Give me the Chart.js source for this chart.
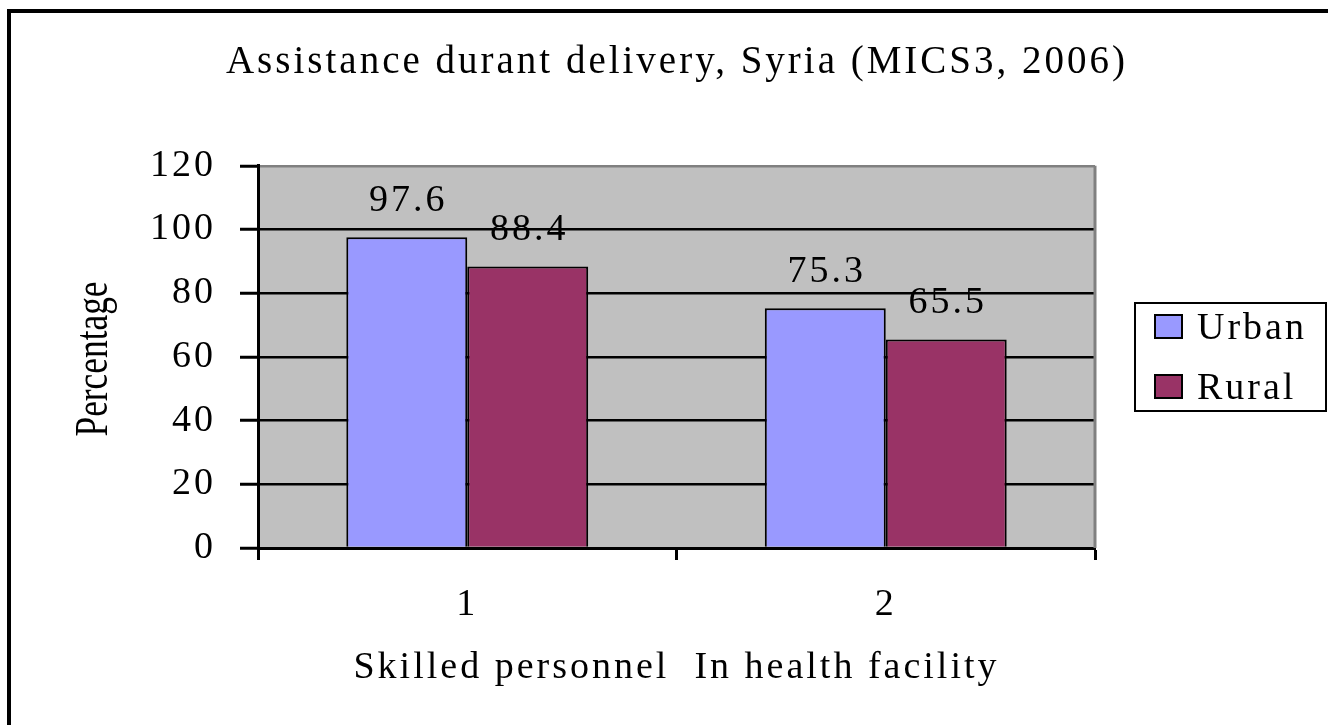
<!DOCTYPE html>
<html><head><meta charset="utf-8">
<script src="https://cdn.jsdelivr.net/npm/chart.js@4"></script>
<style>html,body{margin:0;padding:0;background:#fff;overflow:hidden}</style>
</head><body>
<canvas id="c" width="1328" height="725"></canvas>
<script>
const titleText = 'Assistance durant delivery, Syria (MICS3, 2006)';
const xAxisTitle = 'Skilled personnel  In health facility';
const yAxisTitle = 'Percentage';
const categories = ['1', '2'];
const seriesNames = ['Urban', 'Rural'];
const urbanValues = [97.6, 75.3];
const ruralValues = [88.4, 65.5];
const seriesColors = ['#9999FF', '#993366'];
const yMin = 0, yMax = 120, yStep = 20;
const FONT = "'Liberation Serif','Times New Roman',serif";
const LS = '3px';

const spacingPlugin = {
  id: 'spacing',
  beforeUpdate(c) { c.ctx.letterSpacing = LS; },
  beforeLayout(c) { c.ctx.letterSpacing = LS; },
  beforeDraw(c) { c.ctx.letterSpacing = LS; }
};

const decorPlugin = {
  id: 'decor',
  beforeDraw(c) {
    const ctx = c.ctx, a = c.chartArea;
    ctx.save();
    ctx.fillStyle = '#fff';
    ctx.fillRect(0, 0, c.width, c.height);
    ctx.fillStyle = '#000';
    ctx.fillRect(7, 9, 4, c.height);
    ctx.fillRect(7, 9, c.width, 4);
    ctx.fillStyle = '#C0C0C0';
    ctx.fillRect(a.left, a.top, a.right - a.left, a.bottom - a.top);
    ctx.restore();
  },
  beforeDatasetsDraw(c) {
    const ctx = c.ctx, a = c.chartArea;
    ctx.save();
    ctx.strokeStyle = '#808080';
    ctx.lineWidth = 3;
    ctx.beginPath();
    ctx.moveTo(a.right, a.top);
    ctx.lineTo(a.right, a.bottom);
    ctx.stroke();
    ctx.restore();
  },
  afterDatasetsDraw(c) {
    const ctx = c.ctx;
    ctx.save();
    ctx.letterSpacing = LS;
    ctx.font = '38px ' + FONT;
    ctx.fillStyle = '#000';
    ctx.textAlign = 'center';
    ctx.textBaseline = 'middle';
    c.data.datasets.forEach((ds, i) => {
      c.getDatasetMeta(i).data.forEach((bar, j) => {
        ctx.fillText(String(ds.data[j]), bar.x + 1.5, bar.y - 36);
      });
    });
    ctx.restore();
  },
  afterDraw(c) {
    const ctx = c.ctx;
    // y axis title (condensed)
    ctx.save();
    ctx.letterSpacing = '0px';
    ctx.font = '46px ' + FONT;
    ctx.fillStyle = '#000';
    const w = ctx.measureText(yAxisTitle).width;
    const sx = 155 / w;
    ctx.translate(107, 359);
    ctx.rotate(-Math.PI / 2);
    ctx.scale(sx, 1);
    ctx.textAlign = 'center';
    ctx.textBaseline = 'alphabetic';
    ctx.fillText(yAxisTitle, 0, 0);
    ctx.restore();
    // legend
    ctx.save();
    ctx.strokeStyle = '#000';
    ctx.lineWidth = 2;
    ctx.strokeRect(1135, 303, 191, 108);
    ctx.letterSpacing = LS;
    ctx.font = '38px ' + FONT;
    ctx.textBaseline = 'middle';
    ctx.textAlign = 'left';
    c.data.datasets.forEach((ds, i) => {
      const y = 315 + i * 60;
      ctx.fillStyle = ds.backgroundColor;
      ctx.fillRect(1155, y, 27, 23);
      ctx.strokeRect(1155, y, 27, 23);
      ctx.fillStyle = '#000';
      ctx.fillText(ds.label, 1197, y + 14);
    });
    ctx.restore();
  }
};

new Chart(document.getElementById('c'), {
  type: 'bar',
  data: {
    labels: categories,
    datasets: [
      { label: seriesNames[0], data: urbanValues, backgroundColor: seriesColors[0], borderColor: '#000', borderWidth: 2, categoryPercentage: 0.578, barPercentage: 1 },
      { label: seriesNames[1], data: ruralValues, backgroundColor: seriesColors[1], borderColor: '#000', borderWidth: 2, categoryPercentage: 0.578, barPercentage: 1 }
    ]
  },
  options: {
    responsive: false,
    animation: false,
    devicePixelRatio: 1,
    layout: { padding: { left: 26, right: 0, top: 0, bottom: 0 } },
    plugins: {
      legend: { display: false },
      tooltip: { enabled: false },
      title: {
        display: true, text: titleText, color: '#000',
        font: { family: FONT, size: 39, weight: 'normal', lineHeight: 1.2 },
        padding: { top: 39, bottom: 80 }
      }
    },
    scales: {
      x: {
        afterFit(s) { s.height = 177; },
        grid: { display: true, drawOnChartArea: false, offset: true, tickLength: 12, tickColor: '#000', tickWidth: 3 },
        border: { display: true, color: '#000', width: 3 },
        ticks: { color: '#000', padding: 22, font: { family: FONT, size: 38, lineHeight: 1.2 } },
        title: { display: true, text: xAxisTitle, color: '#000', padding: { top: 0, bottom: 34 }, font: { family: FONT, size: 38, lineHeight: 1.2 } }
      },
      y: {
        min: yMin, max: yMax,
        afterFit(s) { s.width = 232; },
        grid: {
          color: (ctx) => ctx.tick && ctx.tick.value === yMax ? '#808080' : '#000',
          lineWidth: 2.5, tickLength: 18, tickColor: '#000', tickWidth: 3
        },
        border: { display: true, color: '#000', width: 3 },
        ticks: { stepSize: yStep, color: '#000', padding: 24, font: { family: FONT, size: 38, lineHeight: 1.2 } }
      },
      yRight: {
        type: 'linear', position: 'right', display: true,
        afterFit(s) { s.width = 233; },
        grid: { display: false },
        border: { display: false },
        ticks: { display: false }
      }
    }
  },
  plugins: [spacingPlugin, decorPlugin]
});
</script>
</body></html>
